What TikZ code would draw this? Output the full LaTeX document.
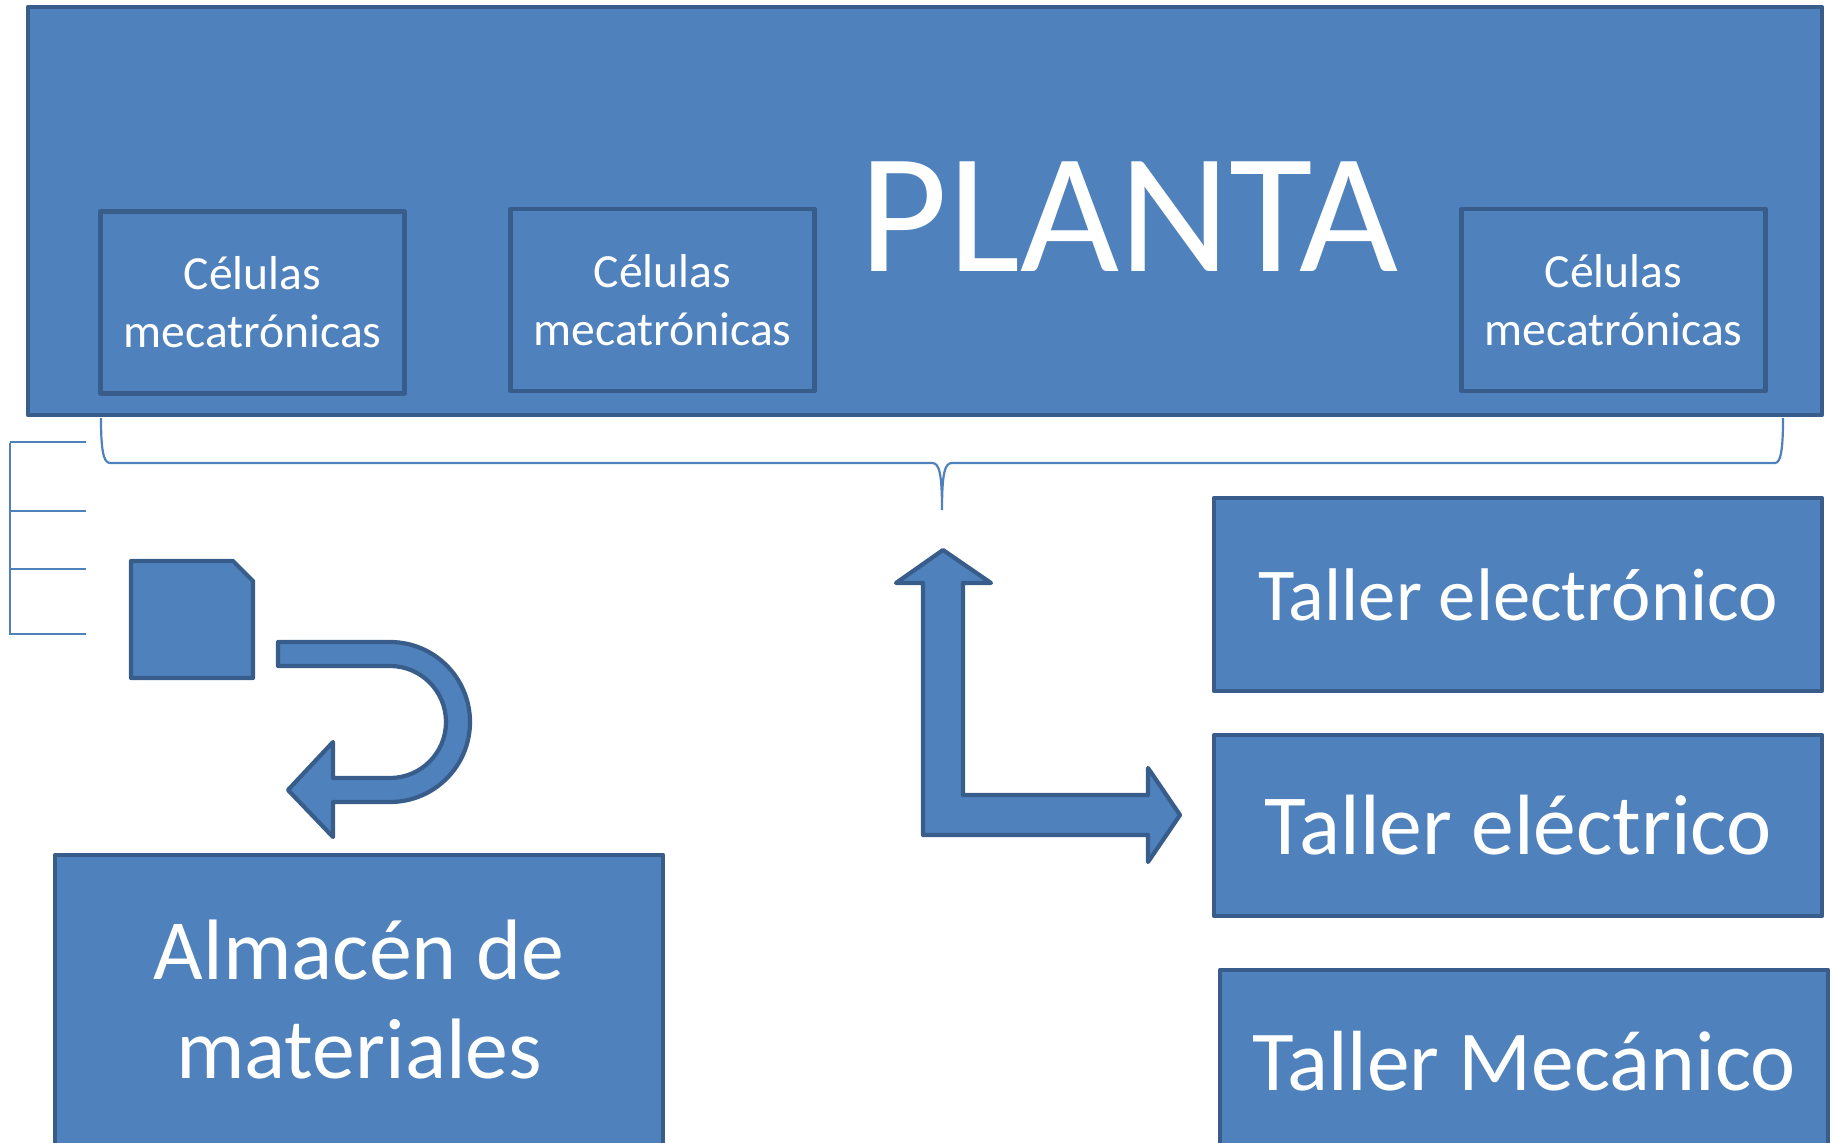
\documentclass[tikz,border=0pt]{standalone}
\usepackage{fontspec}
\setmainfont{Carlito}
\definecolor{boxfill}{HTML}{4F81BD}
\definecolor{boxline}{HTML}{385D8A}
\begin{document}
\begin{tikzpicture}[x=0.5pt,y=-0.5pt,
  blk/.style={draw=boxline, fill=boxfill, line width=2.3pt, line join=round, rectangle, inner sep=0pt, text=white, align=center},
  cellbox/.style={blk, minimum width=152pt, minimum height=91pt, font=\fontsize{23.8pt}{29pt}\selectfont},
  wideb/.style={blk, minimum width=304pt},
  thinline/.style={draw=boxfill, line width=1.1pt},
  shapefill/.style={draw=boxline, fill=boxfill, line width=2.1pt, line join=round}]
\useasboundingbox (0,0) rectangle (1834,1143);
\clip (0,0) rectangle (1834,1143);
% main box
\node[blk, minimum width=897pt, minimum height=204pt] (planta) at (925,211) {};
\node[text=white, inner sep=0pt, font=\fontsize{85.5pt}{92pt}\selectfont] (plantatxt) at (1129,217) {PLANTA};
\node[cellbox] (cell1) at (252.5,302.5) {Células\\mecatrónicas};
\node[cellbox] (cell2) at (662.5,300) {Células\\mecatrónicas};
\node[cellbox] (cell3) at (1613.5,300) {Células\\mecatrónicas};
% right boxes
\node[wideb, minimum height=96.5pt, font=\fontsize{37.3pt}{44pt}\selectfont] (telec) at (1518,594.5) {Taller electrónico};
\node[wideb, minimum height=90.5pt, font=\fontsize{42.8pt}{50pt}\selectfont] (telect) at (1518,825.5) {Taller eléctrico};
\node[wideb, minimum height=91pt, font=\fontsize{42.7pt}{50pt}\selectfont] (tmec) at (1524,1061) {Taller Mecánico};
\node[wideb, minimum height=145pt, font=\fontsize{42.9pt}{49.5pt}\selectfont] (almacen) at (359,1000) {Almacén de\\materiales};
% brace under main box
\draw[thinline] (101,418) .. controls (101,448) and (103,463) .. (110,463) -- (932,463)
  .. controls (939,463) and (942,472) .. (942,510)
  .. controls (942,472) and (945,463) .. (952,463) -- (1775,463)
  .. controls (1781,463) and (1783,448) .. (1783,418);
% left lines
\draw[thinline] (10,443) -- (10,635);
\foreach \yy in {442,511,569,634} { \draw[thinline] (10,\yy) -- (86,\yy); }
% folded-corner square
\draw[shapefill] (131,561) -- (233,561) -- (253,581) -- (253,678) -- (131,678) -- cycle;
% U-turn arrow
\draw[shapefill] (278,642) -- (390,642) arc[start angle=90, end angle=-90, radius=40pt]
  -- (333,802) -- (333,837) -- (288,790) -- (333,742) -- (333,778) -- (390,778)
  arc[start angle=-90, end angle=90, radius=28pt] -- (278,666) -- cycle;
% L arrow
\draw[shapefill] (943,550) -- (991,583) -- (963,583) -- (963,795) -- (1148,795) -- (1148,768)
  -- (1180,815) -- (1148,862) -- (1148,835) -- (923,835) -- (923,583) -- (896,583) -- cycle;
\end{tikzpicture}
\end{document}
